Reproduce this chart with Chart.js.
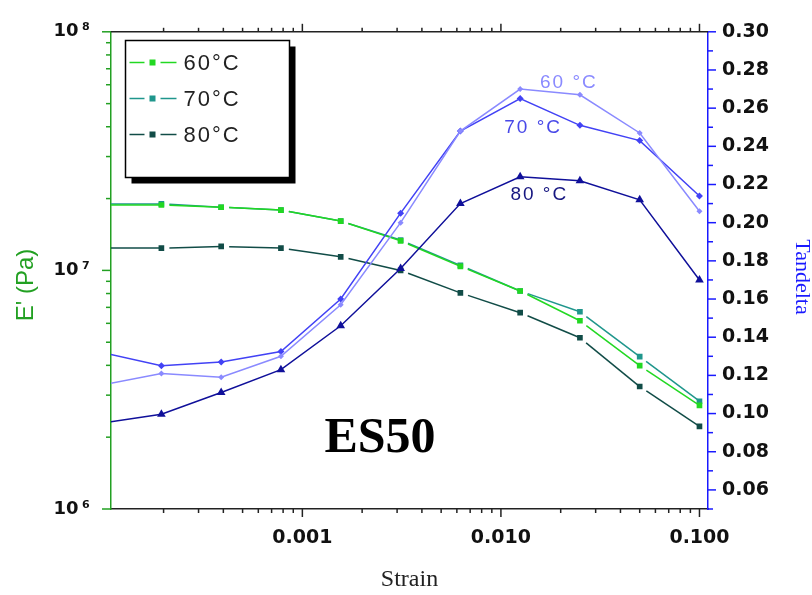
<!DOCTYPE html>
<html>
<head>
<meta charset="utf-8">
<title>ES50 strain sweep</title>
<script src="https://cdn.jsdelivr.net/npm/chart.js@4.4.1/dist/chart.umd.min.js"></script>
<style>
  html, body { margin: 0; padding: 0; background: #fff; }
  canvas { display: block; }
</style>
</head>
<body>
<canvas id="sweepChart" width="812" height="595"></canvas>
<script>
// strain amplitude at each step of the sweep
var strain = [0.0000977, 0.000195, 0.00039, 0.00078, 0.00156, 0.003125, 0.00625, 0.0125, 0.025, 0.05, 0.1];

// storage modulus E' (Pa)
var modulus60 = [1.88e7, 1.88e7, 1.84e7, 1.79e7, 1.61e7, 1.33e7, 1.04e7, 8.2e6, 6.15e6, 3.99e6, 2.72e6];
var modulus70 = [1.90e7, 1.90e7, 1.84e7, 1.79e7, 1.61e7, 1.34e7, 1.05e7, 8.2e6, 6.71e6, 4.35e6, 2.83e6];
var modulus80 = [1.24e7, 1.24e7, 1.26e7, 1.24e7, 1.14e7, 1.0e7, 8.05e6, 6.65e6, 5.22e6, 3.26e6, 2.22e6];

// loss tangent
var tan60 = [0.115, 0.121, 0.119, 0.130, 0.157, 0.200, 0.248, 0.270, 0.267, 0.247, 0.206];
var tan70 = [0.132, 0.125, 0.127, 0.1325, 0.160, 0.205, 0.248, 0.265, 0.251, 0.243, 0.214];
var tan80 = [0.095, 0.0996, 0.111, 0.123, 0.146, 0.176, 0.210, 0.224, 0.222, 0.212, 0.170];

var temps = ['60°C', '70°C', '80°C'];

var strainTicks = [0.001, 0.01, 0.1];
var strainTickText = ['0.001', '0.010', '0.100'];
var modulusTicks = [1e6, 1e7, 1e8];
var modulusTickText = ['10\u2009⁶', '10\u2009⁷', '10\u2009⁸'];
var tanTicks = [0.06, 0.08, 0.10, 0.12, 0.14, 0.16, 0.18, 0.20, 0.22, 0.24, 0.26, 0.28, 0.30];

function points(ys) {
  return strain.map(function (x, i) { return { x: x, y: ys[i] }; });
}

function modulusSet(label, ys, color) {
  return {
    label: label, data: points(ys), yAxisID: 'y', order: 2,
    borderColor: color, backgroundColor: color, borderWidth: 1.5,
    pointStyle: 'rect', pointRadius: 4, pointBorderWidth: 0, clip: 0,
    // each segment leaves a small gap right after the marker it starts from;
    // the tiny offset change keeps segments as separate paths so the dash restarts
    segment: {
      borderDash: [0, 8, 4000],
      borderDashOffset: function (ctx) { return ctx.p0DataIndex * 0.001; }
    }
  };
}

function tanSet(label, ys, color, style, radius) {
  return {
    label: label, data: points(ys), yAxisID: 'y1', order: 1,
    borderColor: color, backgroundColor: color, borderWidth: 1.5,
    pointStyle: style, pointRadius: radius, pointBorderWidth: 0, clip: 0
  };
}

function line(ctx, x1, y1, x2, y2) {
  ctx.beginPath();
  ctx.moveTo(x1, y1);
  ctx.lineTo(x2, y2);
  ctx.stroke();
}

// top frame line plus major/minor tick marks on all four sides
var axisTicks = {
  id: 'axisTicks',
  afterDraw: function (chart) {
    var ctx = chart.ctx, a = chart.chartArea;
    var sx = chart.scales.x, sl = chart.scales.y, sr = chart.scales.y1;
    var d, k, v, p, len;
    ctx.save();
    ctx.lineWidth = 1.5;

    ctx.strokeStyle = '#222';
    line(ctx, a.left, a.top, a.right, a.top);
    for (d = 1e-4; d < 1; d *= 10) {
      for (k = 1; k <= 9; k++) {
        v = k * d;
        if (v < sx.min || v > sx.max) continue;
        p = sx.getPixelForValue(v);
        len = k === 1 ? 8 : 4;
        line(ctx, p, a.bottom, p, a.bottom + len);
        line(ctx, p, a.top, p, a.top - len);
      }
    }

    ctx.strokeStyle = '#22a022';
    for (d = 1e6; d <= 1e8; d *= 10) {
      for (k = 1; k <= 9; k++) {
        v = k * d;
        if (v > sl.max * 1.0001) continue;
        p = sl.getPixelForValue(v);
        len = k === 1 ? 9 : 5;
        line(ctx, a.left - len, p, a.left, p);
      }
    }

    ctx.strokeStyle = '#1a1aff';
    for (k = 5; k <= 30; k++) {
      p = sr.getPixelForValue(k / 100);
      len = k % 2 === 0 ? 8 : 5;
      line(ctx, a.right, p, a.right + len, p);
    }
    ctx.restore();
  }
};

// framed legend with drop shadow, for the modulus curves only
var boxLegend = {
  id: 'boxLegend',
  afterDraw: function (chart, args, opts) {
    var ctx = chart.ctx, b = opts.box;
    ctx.save();
    ctx.fillStyle = '#000';
    ctx.fillRect(b.x + 6, b.y + 6, b.w, b.h);
    ctx.fillStyle = '#fff';
    ctx.fillRect(b.x, b.y, b.w, b.h);
    ctx.strokeStyle = '#000';
    ctx.lineWidth = 1.5;
    ctx.strokeRect(b.x, b.y, b.w, b.h);

    ctx.font = '22px "Liberation Sans", Arial, sans-serif';
    ctx.letterSpacing = '2px';
    ctx.textBaseline = 'middle';
    var row = 0;
    chart.data.datasets.forEach(function (ds) {
      if (ds.yAxisID !== 'y') return;
      var y = b.y + 22 + row * 36;
      var x0 = b.x + 4;
      ctx.strokeStyle = ds.borderColor;
      ctx.fillStyle = ds.borderColor;
      ctx.lineWidth = 1.5;
      line(ctx, x0, y, x0 + 15, y);
      ctx.fillRect(x0 + 20, y - 3, 6, 6);
      line(ctx, x0 + 31, y, x0 + 47, y);
      ctx.fillStyle = '#222';
      ctx.fillText(ds.label, b.x + 58, y + 1);
      row++;
    });
    ctx.restore();
  }
};

// free text: curve labels, sample name and the two vertical axis titles
var chartNotes = {
  id: 'chartNotes',
  afterDraw: function (chart, args, opts) {
    var ctx = chart.ctx;
    ctx.save();
    ctx.textAlign = 'center';
    ctx.textBaseline = 'middle';
    opts.notes.forEach(function (n) {
      var px = chart.scales.x.getPixelForValue(n.x);
      var py = chart.scales[n.axis].getPixelForValue(n.y);
      ctx.font = n.font;
      ctx.letterSpacing = n.spacing || '0px';
      ctx.fillStyle = n.color;
      ctx.fillText(n.text, px, py);
    });
    ctx.letterSpacing = '0px';
    opts.titles.forEach(function (t) {
      ctx.save();
      ctx.translate(t.x, t.y);
      ctx.rotate(t.angle);
      ctx.font = t.font;
      ctx.fillStyle = t.color;
      ctx.fillText(t.text, 0, 0);
      ctx.restore();
    });
    ctx.restore();
  }
};

var tickFont = { family: '"DejaVu Sans", sans-serif', weight: 'bold', size: 19 };
var noteFont = '19px "Liberation Sans", Arial, sans-serif';

new Chart(document.getElementById('sweepChart'), {
  type: 'line',
  data: {
    datasets: [
      modulusSet(temps[0], modulus60, '#22d822'),
      modulusSet(temps[1], modulus70, '#1f968c'),
      modulusSet(temps[2], modulus80, '#114c47'),
      tanSet('tan ' + temps[0], tan60, '#8a8aff', 'rectRot', 3),
      tanSet('tan ' + temps[1], tan70, '#4242f5', 'rectRot', 3.5),
      tanSet('tan ' + temps[2], tan80, '#10109a', 'triangle', 5)
    ]
  },
  options: {
    responsive: false,
    animation: false,
    layout: { padding: { top: 29, left: 0, right: 0, bottom: 0 } },
    plugins: {
      legend: { display: false },
      tooltip: { enabled: false },
      boxLegend: { box: { x: 125.5, y: 40.5, w: 164, h: 137 } },
      chartNotes: {
        notes: [
          { text: '60 °C', x: 0.022, y: 0.2734, axis: 'y1', color: '#8a8aff', font: noteFont, spacing: '2px' },
          { text: '70 °C', x: 0.01453, y: 0.2499, axis: 'y1', color: '#4848e8', font: noteFont, spacing: '2px' },
          { text: '80 °C', x: 0.0156, y: 0.2144, axis: 'y1', color: '#161680', font: noteFont, spacing: '2px' },
          { text: 'ES50', x: 0.00246, y: 1.96e6, axis: 'y', color: '#000', font: 'bold 50px "Liberation Serif", "Times New Roman", serif' }
        ],
        titles: [
          { text: "E' (Pa)", x: 26, y: 285, angle: -Math.PI / 2, color: '#22a022', font: '24px "Liberation Sans", Arial, sans-serif' },
          { text: 'Tandelta', x: 802, y: 277, angle: Math.PI / 2, color: '#1a1aff', font: '22px "Liberation Serif", "Times New Roman", serif' }
        ]
      }
    },
    scales: {
      x: {
        type: 'logarithmic',
        position: 'bottom',
        min: 1.087e-4,
        max: 0.1104,
        afterFit: function (s) { s.height = 86; },
        afterBuildTicks: function (s) {
          s.ticks = strainTicks.map(function (v) { return { value: v }; });
        },
        grid: { display: false, drawTicks: false },
        border: { display: true, color: '#222', width: 1.5 },
        ticks: {
          autoSkip: false, maxRotation: 0, padding: 18, color: '#111', font: tickFont,
          callback: function (v) {
            var i = strainTicks.indexOf(v);
            return i >= 0 ? strainTickText[i] : '';
          }
        },
        title: {
          display: true, text: 'Strain', color: '#222',
          font: { family: '"Liberation Serif", "Times New Roman", serif', size: 24 },
          padding: { top: 0, bottom: 1 }
        }
      },
      y: {
        type: 'logarithmic',
        position: 'left',
        min: 1e6,
        max: 1e8,
        afterFit: function (s) { s.width = 111; },
        afterBuildTicks: function (s) {
          s.ticks = modulusTicks.map(function (v) { return { value: v }; });
        },
        grid: { display: false, drawTicks: false },
        border: { display: true, color: '#22a022', width: 1.5 },
        ticks: {
          padding: 21, color: '#111',
          font: { family: '"DejaVu Sans", sans-serif', weight: 'bold', size: 18 },
          callback: function (v) {
            var i = modulusTicks.indexOf(v);
            return i >= 0 ? modulusTickText[i] : '';
          }
        }
      },
      y1: {
        type: 'linear',
        position: 'right',
        min: 0.05,
        max: 0.30,
        afterFit: function (s) { s.width = 104; },
        afterBuildTicks: function (s) {
          s.ticks = tanTicks.map(function (v) { return { value: v }; });
        },
        grid: { display: false, drawTicks: false },
        border: { display: true, color: '#1a1aff', width: 1.5 },
        ticks: {
          padding: 14, color: '#111', font: tickFont,
          callback: function (v) { return v.toFixed(2); }
        }
      }
    }
  },
  plugins: [axisTicks, boxLegend, chartNotes]
});
</script>
</body>
</html>
